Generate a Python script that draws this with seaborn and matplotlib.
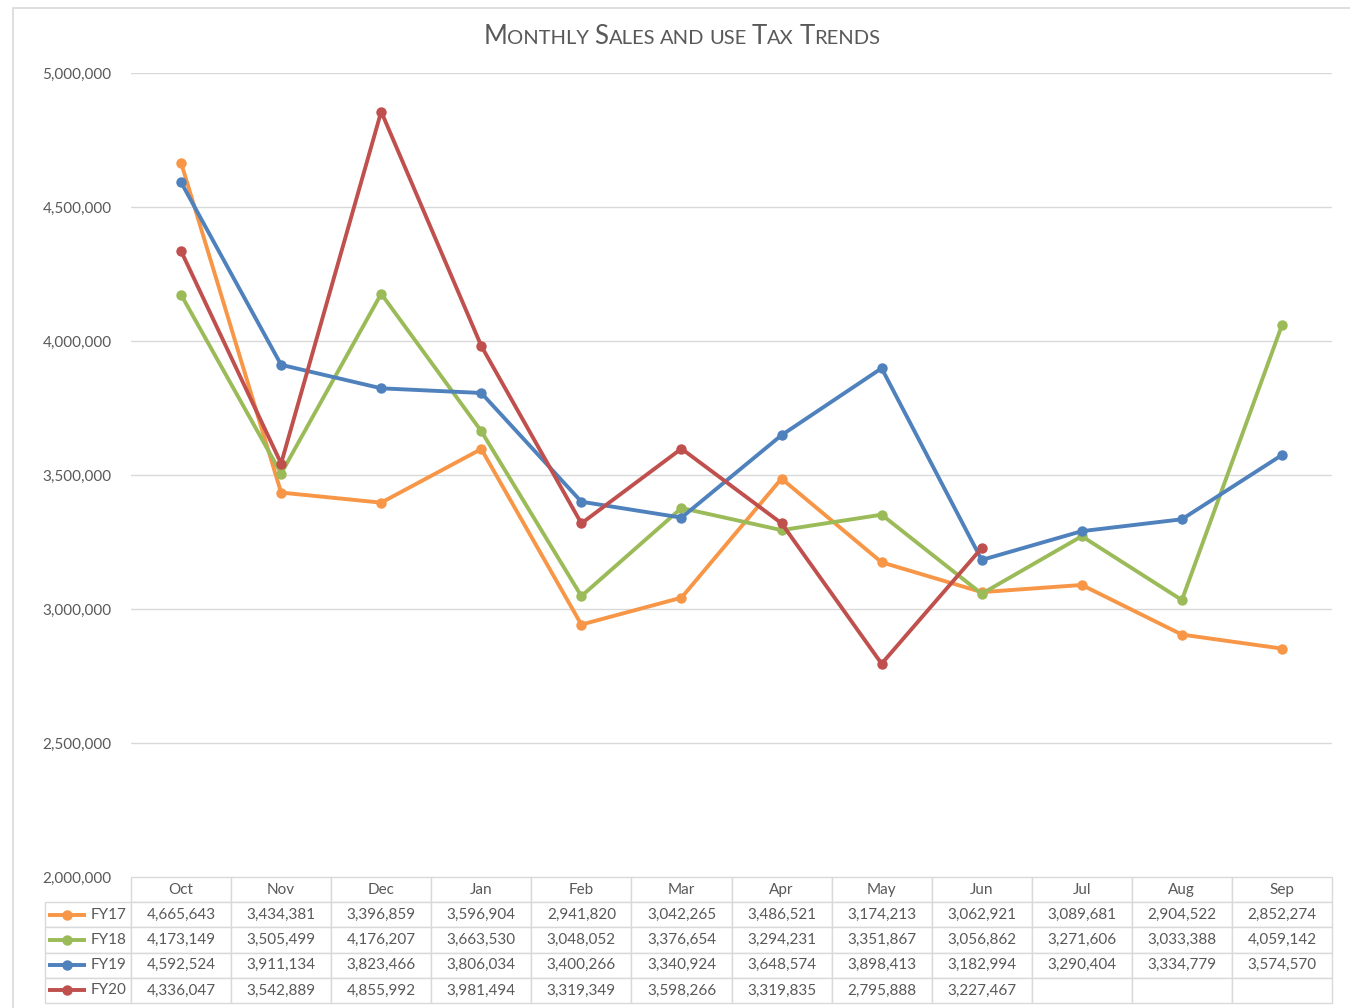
import numpy as np
import pandas as pd
import matplotlib
matplotlib.use("Agg")
import matplotlib.pyplot as plt
import seaborn as sns
from matplotlib.lines import Line2D
from matplotlib.patches import Rectangle
from matplotlib.offsetbox import TextArea, HPacker, AnchoredOffsetbox

months = ["Oct", "Nov", "Dec", "Jan", "Feb", "Mar", "Apr", "May", "Jun", "Jul", "Aug", "Sep"]
series_names = ["FY17", "FY18", "FY19", "FY20"]
fy17 = [4665643, 3434381, 3396859, 3596904, 2941820, 3042265, 3486521, 3174213, 3062921, 3089681, 2904522, 2852274]
fy18 = [4173149, 3505499, 4176207, 3663530, 3048052, 3376654, 3294231, 3351867, 3056862, 3271606, 3033388, 4059142]
fy19 = [4592524, 3911134, 3823466, 3806034, 3400266, 3340924, 3648574, 3898413, 3182994, 3290404, 3334779, 3574570]
fy20 = [4336047, 3542889, 4855992, 3981494, 3319349, 3598266, 3319835, 2795888, 3227467, None, None, None]
y_ticks = [2000000, 2500000, 3000000, 3500000, 4000000, 4500000, 5000000]
title_text = "Monthly Sales and use Tax Trends"

colors = {"FY17": "#F79646", "FY18": "#9BBB59", "FY19": "#4F81BD", "FY20": "#C0504D"}
text_color = "#595959"
grid_color = "#D9D9D9"
FONT = ["Lato", "DejaVu Sans"]

sns.set_theme(style="white")
plt.rcParams["font.family"] = FONT

all_vals = [fy17, fy18, fy19, fy20]
rows = []
for name, vals in zip(series_names, all_vals):
    for i, v in enumerate(vals):
        if v is not None:
            rows.append({"idx": i, "month": months[i], "value": v, "FY": name})
df = pd.DataFrame(rows)

W, H = 1350, 1008
fig = plt.figure(figsize=(W / 100, H / 100), dpi=100)
ax_l, ax_r, ax_t, ax_b = 131, 1332, 73, 877
ax = fig.add_axes([ax_l / W, 1 - ax_b / H, (ax_r - ax_l) / W, (ax_b - ax_t) / H])

# frame
fig.add_artist(Rectangle((13 / W, -0.05), 1.2, 1 - 8 / H + 0.05, transform=fig.transFigure,
                         fill=False, edgecolor="#D9D9D9", linewidth=1.2))

sns.lineplot(data=df, x="idx", y="value", hue="FY", palette=colors, marker="o",
             markersize=7.5, markeredgewidth=0, linewidth=2.8, ax=ax, legend=False,
             sort=False)

ax.set_xlim(-0.5, 11.5)
ax.set_ylim(2000000, 5000000)
ax.set_yticks(y_ticks)
ax.set_yticklabels([f"{t:,}" for t in y_ticks], color=text_color, fontsize=11)
ax.tick_params(axis="y", length=0, pad=14)
ax.set_xticks([])
ax.set_xlabel("")
ax.set_ylabel("")
for s in ax.spines.values():
    s.set_visible(False)
for t in y_ticks[1:]:
    ax.axhline(t, color=grid_color, linewidth=1, zorder=0)

# data table
ax_w = ax_r - ax_l
ax_h = ax_b - ax_t
tbl_left = 45
tbl_h = 126
cell_text = []
for name, vals in zip(series_names, all_vals):
    cell_text.append([name] + [f"{v:,}" if v is not None else "" for v in vals])
col_labels = [""] + months
col_w = [86] + [100] * 12
col_w = [c / sum(col_w) for c in col_w]
tbl = ax.table(cellText=cell_text, colLabels=col_labels, colWidths=col_w, cellLoc="center",
               bbox=[(tbl_left - ax_l) / ax_w, -tbl_h / ax_h, (ax_r - tbl_left) / ax_w, tbl_h / ax_h])
tbl.auto_set_font_size(False)
for (r, c), cell in tbl.get_celld().items():
    cell.set_edgecolor(grid_color)
    cell.set_linewidth(1)
    cell.get_text().set_color(text_color)
    cell.get_text().set_fontsize(11)
    cell.get_text().set_fontfamily(FONT)
    if r == 0 and c == 0:
        cell.set_edgecolor("none")
        cell.visible_edges = ""
    if c == 0 and r > 0:
        cell.get_text().set_horizontalalignment("right")
        cell._loc = "right"
        cell.PAD = 0.05

# legend keys in the table
row_h = tbl_h / 5
for i, name in enumerate(series_names):
    yc = ax_b + row_h * (i + 1.5)
    yf = 1 - yc / H
    fig.add_artist(Line2D([48 / W, 86 / W], [yf, yf], transform=fig.transFigure,
                          color=colors[name], linewidth=2.8, solid_capstyle="butt"))
    fig.add_artist(Line2D([67 / W], [yf], transform=fig.transFigure, color=colors[name],
                          marker="o", markersize=7.5, markeredgewidth=0))

# small-caps style title
big, small = 18.5, 14.5
words = title_text.split(" ")
pieces = []
for wi, w in enumerate(words):
    first, rest = w[0], w[1:]
    if first.isupper():
        pieces.append((first, big))
        if rest:
            pieces.append((rest.upper(), small))
    else:
        pieces.append((w.upper(), small))
    if wi < len(words) - 1:
        pieces.append((" ", small))
boxes = [TextArea(txt, textprops=dict(color=text_color, fontsize=fs, family=FONT)) for txt, fs in pieces]
pack = HPacker(children=boxes, align="baseline", pad=0, sep=0)
anch = AnchoredOffsetbox(loc="center", child=pack, bbox_to_anchor=(682 / W, 1 - 37 / H),
                         bbox_transform=fig.transFigure, frameon=False, pad=0, borderpad=0)
fig.add_artist(anch)

fig.savefig("out.png", dpi=100, facecolor="white")
